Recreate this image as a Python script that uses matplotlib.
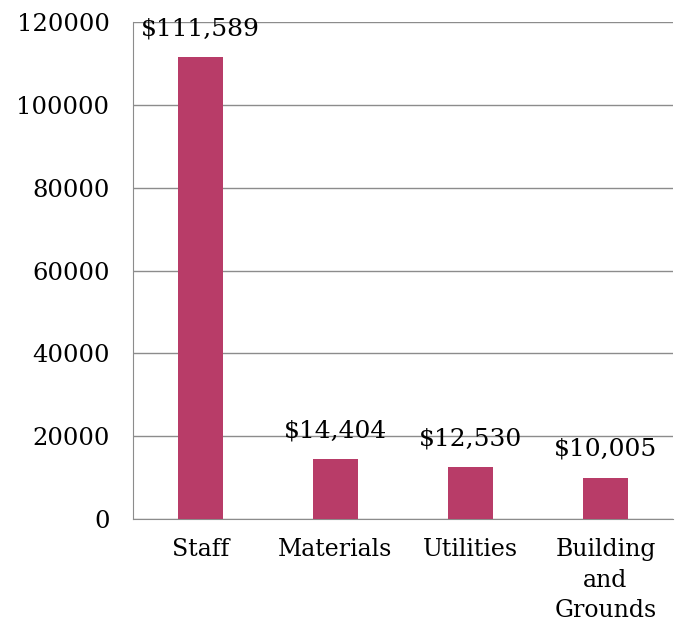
import matplotlib.pyplot as plt

categories = ["Staff", "Materials", "Utilities", "Building\nand\nGrounds"]
amounts = [111589, 14404, 12530, 10005]
value_labels = ["$111,589", "$14,404", "$12,530", "$10,005"]
y_ticks = [0, 20000, 40000, 60000, 80000, 100000, 120000]

plt.rcParams['font.family'] = ['DejaVu Serif']

fig = plt.figure(figsize=(6.81, 6.25), dpi=100)
ax = fig.add_axes([133 / 681, 1 - 519 / 625, 540 / 681, 497 / 625])

x = range(len(categories))
bars = ax.bar(x, amounts, width=0.33, color="#B83C68", zorder=3)

for bar, label in zip(bars, value_labels):
    ax.annotate(label, (bar.get_x() + bar.get_width() / 2, bar.get_height()),
                xytext=(0, 12), textcoords="offset points",
                ha="center", va="bottom", fontsize=18, zorder=4)

ax.set_xlim(-0.5, len(categories) - 0.5)
ax.set_ylim(0, 120000)
ax.set_yticks(y_ticks)
ax.set_yticklabels([str(t) for t in y_ticks], fontsize=17.5)
ax.set_xticks(list(x))
ax.set_xticklabels(categories, fontsize=17, linespacing=1.4)

ax.yaxis.grid(True, color="#8c8c8c", linewidth=1, zorder=0)
ax.tick_params(axis="y", length=0, pad=17)
ax.tick_params(axis="x", length=0, pad=14)
for side in ["top", "right"]:
    ax.spines[side].set_visible(False)
for side in ["left", "bottom"]:
    ax.spines[side].set_color("#8c8c8c")

fig.savefig("out.png", dpi=100)
